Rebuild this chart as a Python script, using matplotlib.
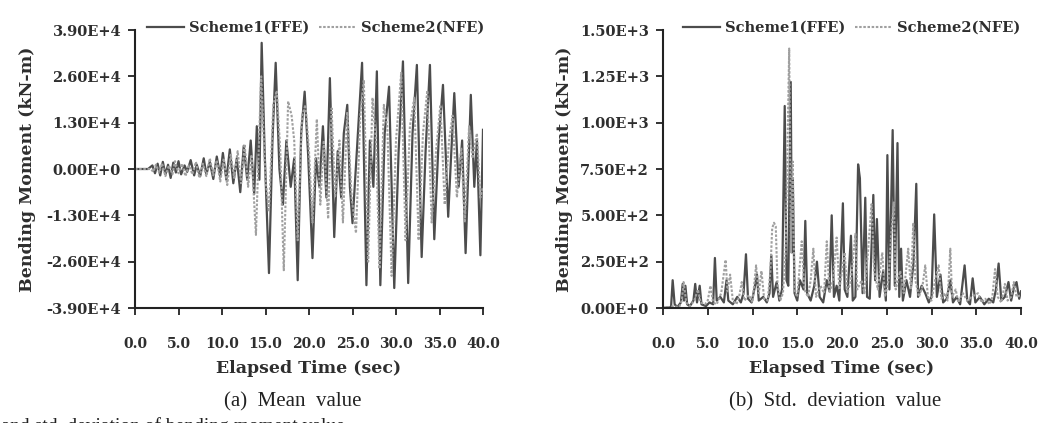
import numpy as np
import matplotlib
matplotlib.use("Agg")
import matplotlib.pyplot as plt
from matplotlib.ticker import FixedLocator

# ---------------- data ----------------
# (a) mean bending moment, values in 1E3 kN-m, (time s, value)
mean_ffe = [
    (0.0, 0.0), (1.5, 0.0), (2.0, 1.0), (2.3, -1.2), (2.6, 1.5), (2.9, -1.8), (3.2, 2.0),
    (3.5, -1.5), (3.8, 1.2), (4.1, -2.5), (4.4, 1.8), (4.7, -1.0), (5.0, 2.2), (5.3, -1.5),
    (5.7, 1.0), (6.0, -0.8), (6.4, 2.5), (6.8, -1.8), (7.1, 1.2), (7.5, -2.0), (7.9, 3.0),
    (8.2, -1.5), (8.6, 2.0), (9.0, -2.8), (9.4, 3.5), (9.8, -2.0), (10.1, 4.5), (10.5, -3.0),
    (10.9, 5.5), (11.3, -4.0), (11.7, 3.0), (12.1, -6.5), (12.5, 6.5), (12.9, -3.0),
    (13.3, 8.0), (13.7, -7.0), (14.0, 12.0), (14.3, -3.0), (14.56, 35.4), (14.9, 5.0),
    (15.4, -29.2), (15.8, 8.0), (16.17, 29.8), (16.6, 0.0), (17.0, -10.0), (17.4, 8.0),
    (17.9, -5.0), (18.3, 3.0), (18.7, -31.2), (19.1, 10.0), (19.5, 21.7), (19.9, 4.0),
    (20.4, -25.0), (20.8, 3.0), (21.2, -5.0), (21.6, 12.0), (22.0, -8.0), (22.4, 25.5),
    (22.9, -19.1), (23.3, 5.0), (23.7, -8.0), (24.0, 10.0), (24.4, 18.0), (24.7, -5.0),
    (25.0, -15.2), (25.5, 5.0), (26.1, 29.8), (26.6, -32.6), (27.0, 8.0), (27.4, -5.0),
    (27.8, 27.4), (28.2, -32.6), (28.7, 10.0), (29.2, 23.1), (29.8, -33.4), (30.3, 5.0),
    (30.8, 30.2), (31.4, -32.0), (31.9, 10.0), (32.4, 29.2), (32.95, -24.7), (33.4, 5.0),
    (33.9, 29.2), (34.4, -19.7), (34.9, 8.0), (35.4, 23.6), (36.0, -13.4), (36.3, 2.0),
    (36.7, 21.3), (37.2, -5.0), (37.6, 8.0), (38.0, -23.6), (38.6, 20.8), (39.0, -5.0),
    (39.3, 8.0), (39.7, -24.2), (40.0, 11.0),
]
mean_nfe = [
    (0.0, 0.0), (1.8, 0.0), (2.1, -0.8), (2.4, 1.2), (2.8, -1.0), (3.1, 1.6), (3.5, -2.0),
    (3.9, 1.0), (4.3, -1.5), (4.6, 2.2), (5.0, -1.2), (5.4, 1.5), (5.8, -2.0), (6.2, 1.0),
    (6.6, -1.5), (7.0, 2.0), (7.4, -2.5), (7.8, 1.5), (8.2, -2.0), (8.6, 3.0), (9.0, -1.8),
    (9.4, 2.5), (9.8, -3.5), (10.2, 3.0), (10.6, -4.5), (11.0, 4.0), (11.4, -2.5),
    (11.8, 5.0), (12.2, -4.0), (12.6, 7.0), (13.0, -5.0), (13.4, 4.0), (13.9, -18.5),
    (14.5, 26.0), (15.0, -3.0), (15.4, -12.0), (15.9, 18.0), (16.3, 22.0), (16.7, 5.0),
    (17.1, -28.4), (17.6, 19.0), (18.0, 15.0), (18.3, 8.0), (18.7, -20.0), (19.2, 15.0),
    (19.6, 18.0), (20.0, 5.0), (20.4, -15.0), (20.9, 14.0), (21.3, -10.0), (21.7, 8.0),
    (22.2, -14.0), (22.6, 17.0), (23.0, -8.0), (23.5, 8.0), (23.9, -15.0), (24.4, 16.0),
    (24.9, -8.0), (25.4, -18.0), (25.9, 15.0), (26.3, 25.0), (26.8, -26.0), (27.3, 20.0),
    (27.7, 8.0), (28.1, -28.0), (28.6, 18.0), (29.0, 12.0), (29.5, -30.0), (30.0, 8.0),
    (30.6, 27.0), (31.1, -20.0), (31.6, 12.0), (32.1, 20.0), (32.6, -20.0), (33.1, 10.0),
    (33.6, 22.0), (34.1, -15.0), (34.6, 5.0), (35.1, 18.0), (35.6, -10.0), (36.1, 8.0),
    (36.5, 15.0), (37.0, -8.0), (37.5, 6.0), (37.9, -15.0), (38.4, 12.0), (38.8, 3.0),
    (39.3, 10.0), (39.7, -8.0), (40.0, -5.0),
]

# (b) std. deviation of bending moment, kN-m, (time s, value)
std_ffe = [
    (0.0, 0), (0.9, 5), (1.08, 150), (1.3, 20), (1.6, 5), (2.0, 30), (2.2, 130), (2.35, 40),
    (2.5, 120), (2.7, 20), (3.0, 10), (3.4, 40), (3.6, 130), (3.8, 30), (4.1, 120), (4.3, 20),
    (4.8, 10), (5.2, 30), (5.6, 20), (5.8, 270), (6.0, 40), (6.4, 60), (6.8, 30), (7.1, 150),
    (7.3, 40), (7.8, 20), (8.3, 60), (8.7, 30), (9.0, 80), (9.27, 290), (9.5, 50), (9.9, 30),
    (10.2, 100), (10.5, 180), (10.7, 40), (11.2, 60), (11.6, 30), (11.9, 80), (12.1, 285),
    (12.3, 60), (12.7, 140), (13.0, 40), (13.3, 100), (13.6, 1090), (13.8, 150),
    (14.0, 120), (14.27, 1220), (14.4, 300), (14.5, 700), (14.7, 80), (15.0, 40),
    (15.3, 150), (15.7, 100), (15.9, 470), (16.1, 80), (16.5, 40), (16.9, 120),
    (17.2, 250), (17.5, 60), (17.9, 30), (18.3, 150), (18.6, 90), (18.85, 500), (19.1, 60),
    (19.4, 120), (19.7, 40), (20.1, 565), (20.3, 100), (20.6, 60), (21.0, 390), (21.2, 40),
    (21.5, 60), (21.8, 775), (22.0, 700), (22.3, 80), (22.6, 595), (22.8, 60), (23.1, 50),
    (23.5, 610), (23.7, 150), (23.9, 480), (24.2, 60), (24.6, 200), (24.9, 40),
    (25.07, 825), (25.3, 100), (25.66, 960), (25.9, 120), (26.2, 890), (26.4, 60),
    (26.6, 320), (26.8, 40), (27.2, 150), (27.6, 60), (28.0, 250), (28.3, 670), (28.5, 60),
    (28.9, 120), (29.3, 80), (29.7, 30), (30.0, 60), (30.3, 505), (30.6, 60), (31.0, 180),
    (31.3, 30), (31.7, 50), (32.1, 150), (32.4, 30), (32.8, 60), (33.2, 20), (33.7, 230),
    (34.0, 40), (34.3, 20), (34.6, 160), (34.9, 30), (35.4, 60), (35.9, 20), (36.4, 50),
    (36.9, 30), (37.2, 100), (37.5, 240), (37.8, 40), (38.2, 60), (38.6, 140), (38.9, 40),
    (39.2, 110), (39.5, 140), (39.8, 50), (40.0, 90),
]
std_nfe = [
    (0.0, 0), (1.2, 10), (1.8, 5), (2.1, 40), (2.3, 140), (2.6, 30), (3.0, 10), (3.5, 40),
    (3.9, 100), (4.2, 30), (4.7, 20), (5.0, 40), (5.3, 120), (5.6, 30), (6.0, 20), (6.5, 80),
    (7.0, 260), (7.2, 90), (7.5, 180), (7.8, 40), (8.2, 20), (8.5, 60), (8.8, 140),
    (9.1, 40), (9.6, 70), (10.0, 30), (10.4, 230), (10.7, 80), (11.0, 200), (11.3, 50),
    (11.7, 40), (12.0, 200), (12.2, 430), (12.4, 460), (12.6, 440), (12.8, 120),
    (13.1, 40), (13.4, 80), (13.7, 300), (14.1, 1400), (14.3, 300), (14.5, 790),
    (14.7, 90), (15.0, 60), (15.5, 360), (15.8, 100), (16.2, 60), (16.5, 150),
    (16.8, 320), (17.1, 60), (17.6, 120), (18.0, 80), (18.3, 360), (18.6, 80),
    (19.0, 150), (19.4, 380), (19.7, 100), (20.0, 200), (20.3, 300), (20.6, 80),
    (21.0, 150), (21.5, 400), (21.7, 100), (22.2, 150), (22.5, 80), (22.9, 300),
    (23.3, 560), (23.6, 200), (24.0, 100), (24.5, 300), (24.8, 60), (25.2, 150),
    (25.5, 400), (25.8, 570), (26.0, 100), (26.5, 200), (26.9, 80), (27.4, 320),
    (27.7, 100), (27.96, 460), (28.2, 150), (28.6, 60), (29.0, 120), (29.3, 230),
    (29.6, 60), (30.0, 40), (30.4, 150), (30.8, 230), (31.1, 50), (31.5, 80), (31.8, 40),
    (32.1, 320), (32.3, 60), (32.7, 100), (33.0, 30), (33.5, 80), (34.0, 40), (34.5, 60),
    (35.2, 80), (35.6, 30), (36.0, 50), (36.5, 20), (36.8, 60), (37.1, 210), (37.4, 60),
    (37.8, 30), (38.2, 130), (38.5, 40), (38.9, 60), (39.2, 140), (39.5, 60), (40.0, 70),
]

series_names = ["Scheme1(FFE)", "Scheme2(NFE)"]
x_ticks = [0.0, 5.0, 10.0, 15.0, 20.0, 25.0, 30.0, 35.0, 40.0]
mean_yticks = [-3.9e4, -2.6e4, -1.3e4, 0.0, 1.3e4, 2.6e4, 3.9e4]
mean_ylabels = ["-3.90E+4", "-2.60E+4", "-1.30E+4", "0.00E+0", "1.30E+4", "2.60E+4", "3.90E+4"]
std_yticks = [0.0, 250.0, 500.0, 750.0, 1000.0, 1250.0, 1500.0]
std_ylabels = ["0.00E+0", "2.50E+2", "5.00E+2", "7.50E+2", "1.00E+3", "1.25E+3", "1.50E+3"]
captions = ["(a)  Mean  value", "(b)  Std.  deviation  value"]

# ---------------- figure ----------------
W, H = 1039, 423
fig = plt.figure(figsize=(W / 100, H / 100), dpi=100)

BOLD = dict(family="DejaVu Serif", weight="bold")
c1, c2 = "#4c4c4c", "#a0a0a0"
TXT = "#2e2e2e"


def style(ax, yticks, ylabels, ylim):
    ax.set_xlim(0, 40)
    ax.set_ylim(*ylim)
    for s in ("top", "right"):
        ax.spines[s].set_visible(False)
    for s in ("left", "bottom"):
        ax.spines[s].set_linewidth(1.5)
        ax.spines[s].set_color("#222222")
    ax.xaxis.set_major_locator(FixedLocator(x_ticks))
    ax.set_xticklabels([f"{v:.1f}" for v in x_ticks], fontsize=10, **BOLD, color=TXT)
    ax.yaxis.set_major_locator(FixedLocator(yticks))
    ax.set_yticklabels(ylabels, fontsize=10.5, **BOLD, color=TXT)
    ax.tick_params(axis="x", direction="out", length=5, width=1.3, pad=16, color="#222222")
    ax.tick_params(axis="y", direction="out", length=5, width=1.3, pad=5, color="#222222")
    ax.set_xlabel("Elapsed Time (sec)", fontsize=12.5, labelpad=6, **BOLD, color=TXT)
    ax.set_ylabel("Bending Moment (kN-m)", fontsize=12.5, **BOLD, color=TXT)


def unzip(pairs, scale=1.0):
    t = np.array([p[0] for p in pairs])
    v = np.array([p[1] for p in pairs]) * scale
    return t, v


ax1 = fig.add_axes([135 / W, 1 - 308 / H, 348 / W, 278 / H])
t, v = unzip(mean_ffe, 1e3)
ax1.plot(t, v, color=c1, lw=1.6, ls="-", label=series_names[0])
t, v = unzip(mean_nfe, 1e3)
ax1.plot(t, v, color=c2, lw=1.5, ls=(0, (1.2, 0.8)), label=series_names[1])
style(ax1, mean_yticks, mean_ylabels, (-3.9e4, 3.9e4))
ax1.yaxis.set_label_coords(-(135 - 36) / 348, 0.5)

ax2 = fig.add_axes([663 / W, 1 - 308 / H, 358 / W, 278 / H])
t, v = unzip(std_ffe)
ax2.plot(t, v, color=c1, lw=1.6, ls="-", label=series_names[0])
t, v = unzip(std_nfe)
ax2.plot(t, v, color=c2, lw=1.5, ls=(0, (1.2, 0.8)), label=series_names[1])
style(ax2, std_yticks, std_ylabels, (0, 1500))
ax2.yaxis.set_label_coords(-(663 - 573) / 358, 0.5)

for ax, xr in ((ax1, 484), (ax2, 1020)):
    leg = ax.legend(loc="center right", bbox_to_anchor=(xr / W, 1 - 28 / H),
                    bbox_transform=fig.transFigure, ncol=2, frameon=False,
                    prop=dict(family="DejaVu Serif", weight="bold", size=10.5),
                    handlelength=2.5, handletextpad=0.35, columnspacing=0.7,
                    borderaxespad=0, borderpad=0)
    for txt in leg.get_texts():
        txt.set_color(TXT)

fig.text(293 / W, 1 - 402 / H, captions[0], ha="center", va="center",
         family="Liberation Serif", fontsize=15, color="#222222")
fig.text(835 / W, 1 - 402 / H, captions[1], ha="center", va="center",
         family="Liberation Serif", fontsize=15, color="#222222")
# caption line of the source figure, mostly cut off by the bottom edge
fig.text(345 / W, 1 - 417 / H, "Fig. 8. Comparisons of mean and std. deviation of bending moment value",
         ha="right", va="top", family="Liberation Serif", fontsize=14, color="#222222")

fig.savefig("out.png", dpi=100)
